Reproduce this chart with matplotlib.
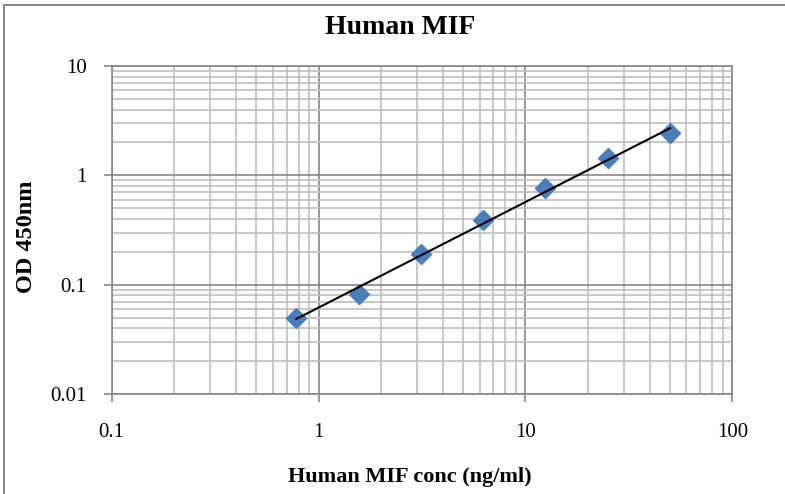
"""Human MIF ELISA standard curve, log-log with power trendline."""

import matplotlib

matplotlib.use("Agg")
import matplotlib.pyplot as plt
import numpy as np
from matplotlib.patches import Rectangle
from matplotlib.ticker import FixedLocator, LogLocator, NullFormatter

# Standard curve data
conc = [0.78, 1.56, 3.125, 6.25, 12.5, 25, 50]
od450 = [0.050, 0.082, 0.191, 0.390, 0.771, 1.43, 2.42]
x_ticks = [0.1, 1, 10, 100]
x_tick_labels = ["0.1", "1", "10", "100"]
y_ticks = [0.01, 0.1, 1, 10]
y_tick_labels = ["0.01", "0.1", "1", "10"]

plt.rcParams["font.family"] = ["Liberation Serif", "DejaVu Serif"]

MAJOR = "#878787"
MINOR = "#bfbfbf"

fig = plt.figure(figsize=(7.85, 4.94), dpi=100)
ax = fig.add_axes([111.7 / 785, 1 - 394 / 494, 620.6 / 785, 328 / 494])

# outer chart frame (left and top edges visible)
fig.patches.append(
    Rectangle((4 / 785, -0.1), 1.2, 1 - 5 / 494 + 0.1, transform=fig.transFigure,
              fill=False, edgecolor="#8c8c8c", linewidth=1.5)
)

ax.set_xscale("log")
ax.set_yscale("log")
ax.set_xlim(0.1, 100)
ax.set_ylim(0.01, 10)

ax.xaxis.set_major_locator(FixedLocator(x_ticks))
ax.yaxis.set_major_locator(FixedLocator(y_ticks))
ax.set_xticklabels(x_tick_labels)
ax.set_yticklabels(y_tick_labels)
ax.xaxis.set_minor_locator(LogLocator(base=10, subs=np.arange(2, 10), numticks=20))
ax.yaxis.set_minor_locator(LogLocator(base=10, subs=np.arange(2, 10), numticks=20))
ax.xaxis.set_minor_formatter(NullFormatter())
ax.yaxis.set_minor_formatter(NullFormatter())

ax.grid(True, which="minor", color=MINOR, linewidth=1.2, zorder=0)
ax.grid(True, which="major", color=MAJOR, linewidth=1.2, zorder=0)
ax.set_axisbelow(True)

ax.tick_params(which="major", direction="out", length=6, width=1.2, color=MAJOR,
               labelsize=15, pad=15)
ax.tick_params(axis="y", which="major", pad=12)
ax.tick_params(which="minor", length=0)
for side in ["left", "bottom", "right", "top"]:
    ax.spines[side].set_color(MAJOR)
    ax.spines[side].set_linewidth(1.2)

# power trendline fit in log-log space
lx = np.log10(conc)
ly = np.log10(od450)
slope, intercept = np.polyfit(lx, ly, 1)
xfit = np.array([conc[0], conc[-1]])
yfit = 10 ** (intercept + slope * np.log10(xfit))

ax.plot(conc, od450, linestyle="none", marker="D", markersize=10,
        color="#4a7ebb", markeredgecolor="#4a7ebb", zorder=3)
ax.plot(xfit, yfit, color="black", linewidth=1.5, zorder=4)

fig.text(400 / 785, 1 - 28 / 494, "Human MIF", ha="center", va="center",
         fontsize=20, fontweight="bold")
fig.text(410 / 785, 1 - 477 / 494, "Human MIF conc (ng/ml)", ha="center", va="center",
         fontsize=16, fontweight="bold")
fig.text(26.5 / 785, 1 - 237 / 494, "OD 450nm", ha="center", va="center",
         rotation=90, fontsize=17.5, fontweight="bold")

fig.savefig("out.png", dpi=100)
plt.close(fig)
